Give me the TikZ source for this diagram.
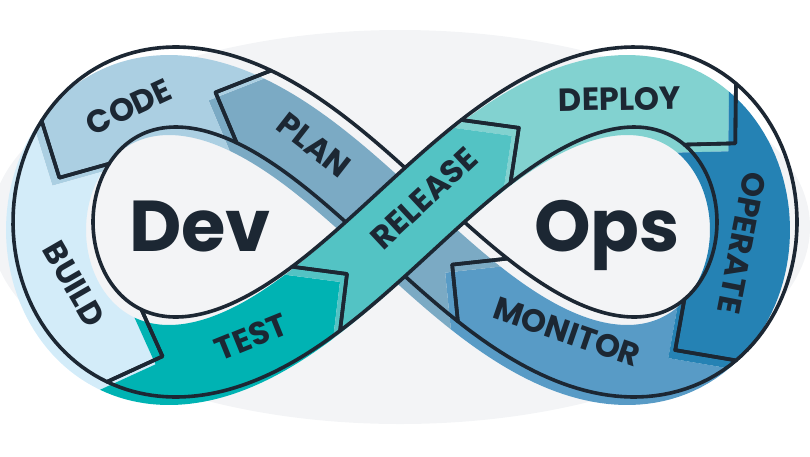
\documentclass[tikz,border=0pt]{standalone}
\usepackage{xcolor}
\usepackage{fontspec}
\usepackage{tikz}
\usetikzlibrary{positioning}

\newfontfamily\phasefont{Poppins}
\newfontfamily\wordfont{Poppins}

\definecolor{ink}{HTML}{1C2733}
\definecolor{backc}{HTML}{F3F4F6}
\definecolor{planc}{HTML}{7BAAC4}
\definecolor{codec}{HTML}{ABCFE2}
\definecolor{buildc}{HTML}{D3ECF9}
\definecolor{testc}{HTML}{00B3B3}
\definecolor{releasec}{HTML}{53C3C4}
\definecolor{deployc}{HTML}{82D2D0}
\definecolor{operatec}{HTML}{2582B4}
\definecolor{monitorc}{HTML}{589BC6}

% one piece of the loop, from the tip at #1 to the tip at #2 (degrees)
\newcommand\piecefill[3]{%
  \pgfmathsetmacro\tipa{#1-dl(#1)}\pgfmathsetmacro\tipb{#2-dl(#2)}%
  \fill[fill=#3, shift={(-7,8)}] ({cx(#1)},{cy(#1)})
    -- plot[domain=\tipa:\tipb] ({ex(\x,40)},{ey(\x,40)}) -- ({cx(#2)},{cy(#2)})
    -- plot[domain=\tipb:\tipa] ({ex(\x,-40)},{ey(\x,-40)}) -- cycle;}
\newcommand\pieceline[2]{%
  \pgfmathsetmacro\tipa{#1-dl(#1)}\pgfmathsetmacro\tipb{#2-dl(#2)}%
  \draw[piece] ({cx(#1)},{cy(#1)})
    -- plot[domain=\tipa:\tipb] ({ex(\x,40)},{ey(\x,40)}) -- ({cx(#2)},{cy(#2)})
    -- plot[domain=\tipb:\tipa] ({ex(\x,-40)},{ey(\x,-40)}) -- cycle;}

\begin{document}
\begin{tikzpicture}[x=1pt, y=-1pt, samples=40,
    declare function={
      dd(\t)=1+0.44*sin(\t)*sin(\t);
      cx(\t)=405+352*cos(\t)/dd(\t);
      cy(\t)=222+324*sin(\t)*cos(\t)/dd(\t);
      tx(\t)=-3.52*sin(\t)*(1.88-0.44*sin(\t)*sin(\t));
      ty(\t)=3.24*(1-2.44*sin(\t)*sin(\t));
      tl(\t)=sqrt(tx(\t)*tx(\t)+ty(\t)*ty(\t));
      ex(\t,\s)=cx(\t)-(\s)*ty(\t)/tl(\t);
      ey(\t,\s)=cy(\t)+(\s)*tx(\t)/tl(\t);
      dl(\t)=22.92*dd(\t)*dd(\t)/tl(\t);
    },
    piece/.style={draw=ink, line width=3.6pt, line join=round},
    phase/.style={font=\phasefont\bfseries\fontsize{32}{32}\selectfont, text=ink, inner sep=0pt},
    word/.style={font=\wordfont\bfseries\fontsize{72}{72}\selectfont, text=ink, inner sep=0pt, anchor=base}
]
    \useasboundingbox (0,0) rectangle (810,456);
    \clip (0,0) rectangle (810,456);
    \fill[backc] (400,227) ellipse [x radius=410, y radius=197];

    % coloured pieces, set off down and left of their outlines
    \foreach \ta/\tb/\col in {31/79/monitorc, 79/132/planc, 132/172/codec, 172/217/buildc,
        217/256.5/testc, 296/345/deployc, 345/391/operatec}
        {\piecefill{\ta}{\tb}{\col}}
    \pieceline{79}{132}
    % release passes over plan
    \piecefill{256.5}{296}{releasec}
    \foreach \ta/\tb in {31/79, 132/172, 172/217, 217/256.5, 256.5/296, 296/345, 345/391}
        {\pieceline{\ta}{\tb}}

    \node[phase, rotate=25] (code) at (129,107) {CODE};
    \node[phase, rotate=-38] (plan) at (314,145) {PLAN};
    \node[phase, rotate=-60] (build) at (74,284) {BUILD};
    \node[phase, rotate=22] (test) at (251,337) {TEST};
    \node[phase, rotate=43] (release) at (424,198) {RELEASE};
    \node[phase, rotate=1] (deploy) at (620,99) {DEPLOY};
    \node[phase, rotate=-101] (operate) at (742,243) {OPERATE};
    \node[phase, rotate=-19] (monitor) at (567,332) {MONITOR};

    \node[word] (dev) at (200,251) {Dev};
    \node[word] (ops) at (607,251) {Ops};
\end{tikzpicture}
\end{document}
